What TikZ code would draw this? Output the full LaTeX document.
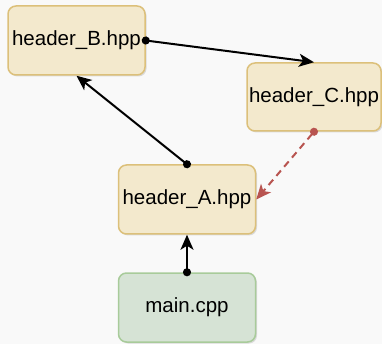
\documentclass[tikz,border=0pt]{standalone}
\usepackage{fontspec}
\setmainfont{Liberation Sans}
\usepackage{xcolor}
\usetikzlibrary{arrows.meta,shadows}
\definecolor{hdrfill}{HTML}{F3E9CD}
\definecolor{hdrline}{HTML}{DCC07A}
\definecolor{srcfill}{HTML}{D6E3D5}
\definecolor{srcline}{HTML}{A8CB9A}
\definecolor{bgcol}{HTML}{F9F9F9}
\definecolor{weakred}{HTML}{B85450}

\begin{document}
\begin{tikzpicture}[x=1pt, y=-1pt, >=Stealth,
  font=\fontsize{20.5}{24}\selectfont,
  hdr/.style={draw=hdrline,fill=hdrfill,line width=1.5pt,rounded corners=8pt,
    minimum width=137pt,minimum height=69pt,inner sep=0pt,
    drop shadow={shadow xshift=1.5pt,shadow yshift=-1.5pt,opacity=0.25,fill=black!50}},
  src/.style={hdr,draw=srcline,fill=srcfill},
  dep/.style={{Circle[length=8pt]}-{Stealth[length=15pt,width=13pt,inset=4pt]},line width=2pt,shorten <=-4pt},
  weak/.style={dep,weakred,dash pattern=on 7pt off 5pt}]
 % canvas
 \useasboundingbox (0,0) rectangle (382,344);
 \fill[bgcol] (0,0) rectangle (382,344);
 % files
 \node[hdr] (hb) at (76.5,40.5) {header\_B.hpp};
 \node[hdr,minimum width=134pt,minimum height=68pt] (hc) at (314,97) {header\_C.hpp};
 \node[hdr] (ha) at (187,199.5) {header\_A.hpp};
 \node[src] (mn) at (187,307.5) {main.cpp};
 % includes
 \draw[dep] (hb.east) -- (hc.north);
 \draw[dep] (ha.north) -- (hb.south);
 \draw[dep] (mn.north) -- (ha.south);
 \draw[weak] (hc.south) -- (ha.east);
\end{tikzpicture}
\end{document}
